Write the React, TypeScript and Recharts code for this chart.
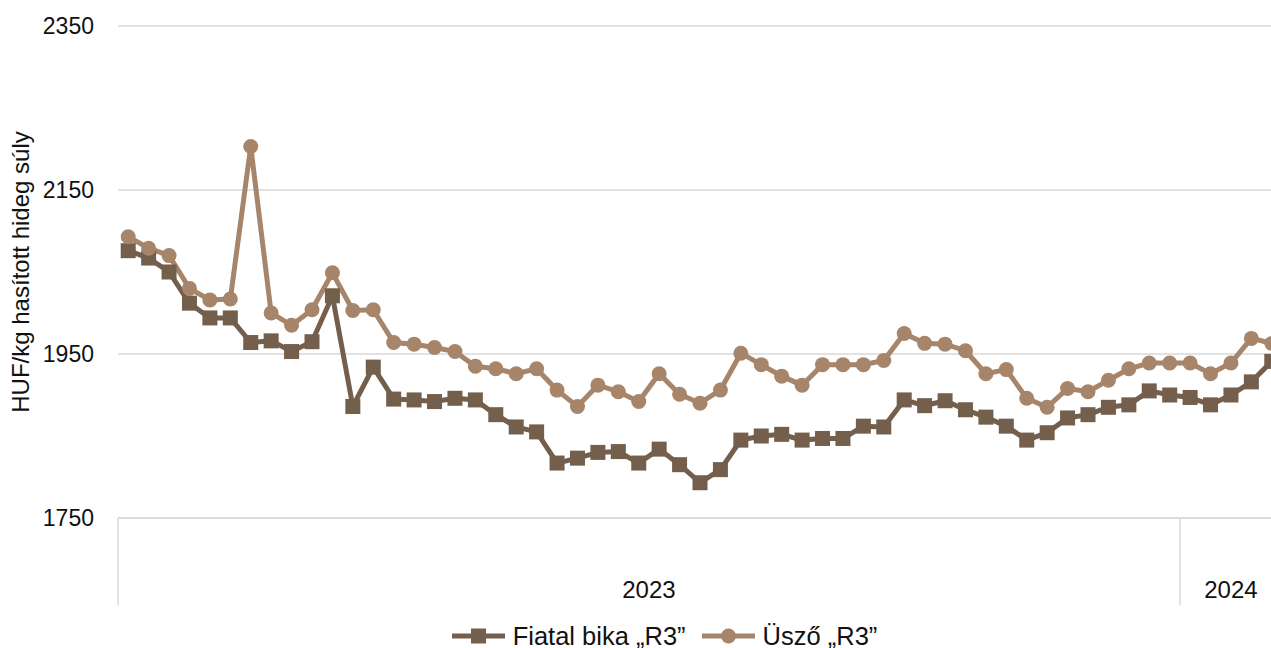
import { LineChart, Line, XAxis, YAxis, CartesianGrid, Legend } from "recharts";

// heti adatok, 2023. 1. hét – 2024. 5. hét
const weeks = [
  "2023-01", "2023-02", "2023-03", "2023-04", "2023-05", "2023-06", "2023-07", "2023-08", "2023-09", "2023-10",
  "2023-11", "2023-12", "2023-13", "2023-14", "2023-15", "2023-16", "2023-17", "2023-18", "2023-19", "2023-20",
  "2023-21", "2023-22", "2023-23", "2023-24", "2023-25", "2023-26", "2023-27", "2023-28", "2023-29", "2023-30",
  "2023-31", "2023-32", "2023-33", "2023-34", "2023-35", "2023-36", "2023-37", "2023-38", "2023-39", "2023-40",
  "2023-41", "2023-42", "2023-43", "2023-44", "2023-45", "2023-46", "2023-47", "2023-48", "2023-49", "2023-50",
  "2023-51", "2023-52", "2024-01", "2024-02", "2024-03", "2024-04", "2024-05",
];

const fiatalBika = [
  2076, 2067, 2050, 2012, 1994, 1994, 1964, 1966, 1953, 1965,
  2021, 1886, 1934, 1895, 1894, 1892, 1896, 1894, 1876, 1861,
  1855, 1817, 1823, 1830, 1831, 1817, 1834, 1815, 1793, 1809,
  1845, 1850, 1852, 1845, 1847, 1847, 1862, 1861, 1894, 1887,
  1893, 1882, 1873, 1862, 1845, 1854, 1872, 1876, 1885, 1888,
  1905, 1900, 1897, 1888, 1900, 1916, 1941,
];

const uszo = [
  2093, 2079, 2070, 2030, 2016, 2017, 2203, 2000, 1985, 2004,
  2049, 2003, 2004, 1964, 1962, 1958, 1953, 1935, 1932, 1926,
  1932, 1906, 1886, 1912, 1904, 1892, 1926, 1901, 1890, 1906,
  1951, 1937, 1923, 1912, 1937, 1937, 1937, 1942, 1975, 1963,
  1962, 1954, 1926, 1931, 1896, 1885, 1908, 1904, 1918, 1932,
  1939, 1939, 1939, 1926, 1939, 1969, 1963,
];

const yTicks = [1750, 1950, 2150, 2350];

const data = weeks.map((w, i) => ({
  week: w,
  year: w.slice(0, 4),
  bika: fiatalBika[i],
  uszo: uszo[i],
}));

const FONT = "'Liberation Sans', Arial, sans-serif";
const BIKA_COLOR = "#735f4c";
const USZO_COLOR = "#a7856a";
const GRID = "#d9d9d9";

const CHART_W = 1290;
const CHART_H = 640;
const MARGIN = { top: 18, right: 16, bottom: 0, left: 10 };
const YAXIS_W = 100;
const PLOT_W = CHART_W - MARGIN.left - MARGIN.right - YAXIS_W;
const STEP = PLOT_W / weeks.length;

const YearTick = (props: any) => {
  const { x, y, payload } = props;
  const i = payload.index ?? props.index;
  const yr = data[i].year;
  const first = i === 0 || data[i - 1].year !== yr;
  if (!first) return <g />;
  const count = data.filter((d) => d.year === yr).length;
  const left = x - STEP / 2;
  return (
    <g>
      <line x1={left} x2={left} y1={y} y2={y + 87} stroke={GRID} strokeWidth={1.5} />
      <text
        x={x + ((count - 1) / 2) * STEP}
        y={y + 80}
        textAnchor="middle"
        fontFamily={FONT}
        fontSize={24}
        fill="#111"
      >
        {yr}
      </text>
    </g>
  );
};

const YLabel = (props: any) => {
  const vb = props.viewBox;
  const cx = 12;
  const cy = vb.y + vb.height / 2;
  return (
    <text
      x={cx}
      y={cy}
      transform={`rotate(-90, ${cx}, ${cy})`}
      textAnchor="middle"
      dominantBaseline="central"
      fontFamily={FONT}
      fontSize={24}
      fill="#111"
    >
      HUF/kg hasított hideg súly
    </text>
  );
};

const SquareDot = (props: any) => {
  const { cx, cy, index } = props;
  if (cx == null || cy == null) return <g key={`sq-${index}`} />;
  return <rect key={`sq-${index}`} x={cx - 7.5} y={cy - 7.5} width={15} height={15} fill={BIKA_COLOR} />;
};

const renderLegend = (props: any) => {
  const items = props.payload || [];
  return (
    <div
      style={{
        display: "flex",
        justifyContent: "center",
        alignItems: "center",
        height: 30,
        paddingLeft: 29,
        transform: "translateY(3px)",
        fontFamily: FONT,
        fontSize: 25.5,
        color: "#111",
      }}
    >
      {items.map((it: any, k: number) => (
        <div
          key={it.value}
          style={{ display: "flex", alignItems: "center", marginRight: k === 0 ? 16 : 0 }}
        >
          <svg width={53} height={20} style={{ marginRight: 8 }}>
            <line x1={0} x2={53} y1={10} y2={10} stroke={it.color} strokeWidth={5} />
            {it.dataKey === "bika" ? (
              <rect x={19} y={2.5} width={15} height={15} fill={it.color} />
            ) : (
              <circle cx={26.5} cy={10} r={7.5} fill={it.color} />
            )}
          </svg>
          <span>{it.value}</span>
        </div>
      ))}
    </div>
  );
};

export default function App() {
  return (
    <div
      style={{
        position: "fixed",
        left: 0,
        top: 0,
        width: 1271,
        height: 648,
        overflow: "hidden",
        background: "#fff",
      }}
    >
      <div style={{ position: "absolute", left: 8, top: 8 }}>
        <LineChart width={CHART_W} height={CHART_H} data={data} margin={MARGIN}>
          <CartesianGrid vertical={false} stroke={GRID} strokeWidth={1.5} />
          <XAxis
            dataKey="week"
            interval={0}
            padding={{ left: STEP / 2, right: STEP / 2 }}
            height={100}
            tickLine={false}
            tickSize={0}
            tickMargin={0}
            axisLine={{ stroke: GRID, strokeWidth: 1.5 }}
            tick={<YearTick />}
          />
          <YAxis
            width={YAXIS_W}
            domain={[1750, 2350]}
            ticks={yTicks}
            axisLine={false}
            tickLine={false}
            tickSize={0}
            tickMargin={24}
            tick={{ fontFamily: FONT, fontSize: 23, fill: "#111" }}
            label={<YLabel />}
          />
          <Legend verticalAlign="bottom" content={renderLegend} />
          <Line
            type="linear"
            dataKey="bika"
            name="Fiatal bika „R3”"
            stroke={BIKA_COLOR}
            strokeWidth={5}
            dot={<SquareDot />}
            activeDot={false}
            isAnimationActive={false}
          />
          <Line
            type="linear"
            dataKey="uszo"
            name="Üsző „R3”"
            stroke={USZO_COLOR}
            strokeWidth={5}
            dot={{ r: 7.5, fill: USZO_COLOR, stroke: USZO_COLOR, strokeWidth: 0 }}
            activeDot={false}
            isAnimationActive={false}
          />
        </LineChart>
      </div>
    </div>
  );
}
